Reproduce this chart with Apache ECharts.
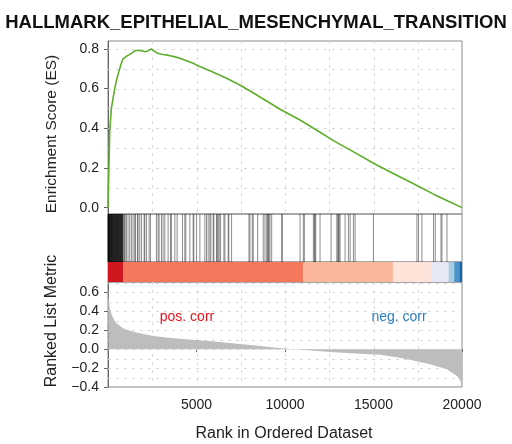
<!DOCTYPE html>
<html><head><meta charset="utf-8">
<script src="https://cdn.jsdelivr.net/npm/echarts@6/dist/echarts.min.js"></script>
<style>html,body{margin:0;padding:0;background:#fff}#c{width:512px;height:444px}</style>
</head><body><div id="c"></div>
<script>
const chartTitle = 'HALLMARK_EPITHELIAL_MESENCHYMAL_TRANSITION';
const esRank  = [0,50,96,190,283,380,475,560,660,760,850,950,1040,1180,1320,1420,1500,1600,1700,1800,1950,2100,2250,2360,2450,2600,2740,2900,3100,3300,3500,3800,4060,4400,4810,5190,5755,6200,6700,7200,7640,8100,8585,9100,9717,10300,10849,11800,12734,13900,14997,16200,17453,18393,19200,20000];
const esScore = [0,0.20,0.38,0.50,0.55,0.60,0.64,0.67,0.70,0.73,0.75,0.758,0.763,0.770,0.778,0.784,0.790,0.795,0.793,0.795,0.790,0.786,0.790,0.795,0.800,0.790,0.781,0.776,0.772,0.770,0.766,0.760,0.753,0.742,0.728,0.711,0.690,0.672,0.652,0.630,0.608,0.584,0.558,0.530,0.496,0.468,0.442,0.390,0.338,0.280,0.224,0.168,0.112,0.068,0.034,0.0];
const metricRank  = [1,30,96,180,283,450,660,900,1228,1600,1980,2600,3300,4200,5190,6320,7450,8500,9500,10470,11500,12500,13500,14500,15376,16320,17260,18200,18770,19150,19525,19720,19900,20000];
const metricValue = [0.62,0.55,0.44,0.38,0.335,0.28,0.247,0.215,0.194,0.175,0.159,0.14,0.123,0.108,0.095,0.077,0.055,0.035,0.015,0,-0.015,-0.03,-0.04,-0.05,-0.06,-0.085,-0.12,-0.16,-0.19,-0.212,-0.26,-0.285,-0.33,-0.4];
const hitRanks = [5,12,20,30,40,50,60,72,85,98,110,120,130,145,160,175,190,202,215,228,240,255,270,285,300,315,330,345,360,375,390,405,420,435,450,465,480,495,510,525,540,555,570,585,600,615,630,645,660,675,690,705,720,735,750,765,780,795,810,825,840,
  888,945,962,1040,1132,1228,1322,1415,1511,1550,1664,1700,1794,1890,2040,2077,2172,2322,2398,2738,2830,2888,3020,3113,3209,3396,3530,3585,3775,3905,4209,4340,4397,4624,4812,4850,5003,5190,5472,5566,5660,5755,5812,5942,5982,6130,6170,6225,6283,6360,6547,6604,6790,6830,6983,
  7963,8019,8150,8206,8455,8770,8868,8964,9020,9055,9095,9150,9247,9813,9847,10849,11036,11093,11602,11658,11696,11737,11980,12603,12926,12982,13020,13056,13113,13395,13583,13679,13866,13960,14997,17453,17544,17736,18393,18488,18811,18868,19151];
const colorStart = [0,850,11040,16100,18300,19240,19560,19850];
const colorEnd   = [850,11040,16100,18300,19240,19560,19850,20000];
const colorFill  = ['#D0161E','#F4785B','#FCB69B','#FEE4D8','#E6E8F5','#A8CCE6','#4A93C8','#1562AE'];
const xTicks = [5000,10000,15000,20000];
const esTicks = [0,0.2,0.4,0.6,0.8];
const metricTicks = [-0.4,-0.2,0,0.2,0.4,0.6];
const esGridY = [0.1,0.2,0.3,0.4,0.5,0.6,0.7,0.8];
const metricGridY = [-0.3,-0.2,-0.1,0,0.1,0.2,0.3,0.4,0.5,0.6,0.7];
const gridX = [2500,5000,7500,10000,12500,15000,17500];

const FONT = 'Liberation Sans';
const chart = echarts.init(document.getElementById('c'), null, {renderer:'canvas'});
const L = 108, W = 354;
const grids = [
  {left:L, top:41, width:W, height:173},
  {left:L, top:214, width:W, height:48},
  {left:L, top:262, width:W, height:20},
  {left:L, top:282, width:W, height:105}
].map(g => Object.assign({show:true, borderColor:'#8a8a8a', borderWidth:1, backgroundColor:'transparent'}, g));

function hx(i){ return {type:'value', gridIndex:i, min:0, max:20000, show:false}; }
const xAxes = [hx(0), hx(1), hx(2), {
  type:'value', gridIndex:3, min:0, max:20000,
  axisLine:{show:false}, splitLine:{show:false},
  axisTick:{show:true, customValues:xTicks, length:3, lineStyle:{color:'#666'}},
  axisLabel:{customValues:xTicks, formatter:v => String(Math.round(v)), margin:11, fontFamily:FONT, fontSize:14, color:'#222'}
}];
const fmt = v => (v < 0 ? '\u2212' : '') + Math.abs(v).toFixed(1);
const yAxes = [
  {type:'value', gridIndex:0, min:-0.032, max:0.84,
   axisLine:{show:true, lineStyle:{color:'#666'}}, splitLine:{show:false},
   axisTick:{show:true, customValues:esTicks, length:4, lineStyle:{color:'#666'}},
   axisLabel:{customValues:esTicks, formatter:fmt, margin:9, fontFamily:FONT, fontSize:14, color:'#222'}},
  {type:'value', gridIndex:1, min:0, max:1, show:false},
  {type:'value', gridIndex:2, min:0, max:1, show:false},
  {type:'value', gridIndex:3, min:-0.4, max:0.71,
   axisLine:{show:true, lineStyle:{color:'#666'}}, splitLine:{show:false},
   axisTick:{show:true, customValues:metricTicks, length:4, lineStyle:{color:'#666'}},
   axisLabel:{customValues:metricTicks, formatter:fmt, margin:9, fontFamily:FONT, fontSize:14, color:'#222'}}
];

const dash = {stroke:'#d8d8d8', lineWidth:1, lineDash:[3,5]};
function hLines(gi, vals){
  return {type:'custom', xAxisIndex:gi, yAxisIndex:gi, z:1, silent:true,
    data: vals.map(v => [1000, v]),
    renderItem:(p, api) => {
      const cs = p.coordSys; const y = Math.round(api.coord([1000, api.value(1)])[1]) + 0.5;
      return {type:'line', shape:{x1:cs.x, y1:y, x2:cs.x+cs.width, y2:y}, style:dash};
    }};
}
function vLines(gi, vals, yv){
  return {type:'custom', xAxisIndex:gi, yAxisIndex:gi, z:1, silent:true,
    data: vals.map(v => [v, yv]),
    renderItem:(p, api) => {
      const cs = p.coordSys; const x = Math.round(api.coord([api.value(0), yv])[0]) + 0.5;
      return {type:'line', shape:{x1:x, y1:cs.y, x2:x, y2:cs.y+cs.height}, style:dash};
    }};
}

const series = [
  hLines(0, esGridY), vLines(0, gridX, 0.2),
  hLines(3, metricGridY), vLines(3, gridX, 0.2),
  {type:'line', xAxisIndex:0, yAxisIndex:0, z:3, symbol:'none', smooth:false,
   data: esRank.map((r,i)=>[r, esScore[i]]),
   lineStyle:{color:'#5DAE2A', width:1.6}},
  {type:'custom', xAxisIndex:1, yAxisIndex:1, z:3, silent:true,
   data: hitRanks.map(r=>[r]),
   renderItem:(p, api) => {
     const a = api.coord([api.value(0), 1]), b = api.coord([api.value(0), 0]);
     return {type:'line', shape:{x1:a[0], y1:a[1], x2:b[0], y2:b[1]}, style:{stroke:'rgba(0,0,0,0.45)', lineWidth:1}};
   }},
  {type:'custom', xAxisIndex:2, yAxisIndex:2, z:2, silent:true,
   data: colorStart.map((s,i)=>[s, colorEnd[i], i]),
   renderItem:(p, api) => {
     const a = api.coord([api.value(0), 1]), b = api.coord([api.value(1), 0]);
     return {type:'rect', shape:{x:a[0], y:a[1], width:b[0]-a[0], height:b[1]-a[1]}, style:{fill:colorFill[api.value(2)]}};
   }},
  {type:'line', xAxisIndex:3, yAxisIndex:3, z:2, symbol:'none',
   data: metricRank.map((r,i)=>[r, metricValue[i]]),
   lineStyle:{width:0, color:'#BDBDBD'},
   areaStyle:{color:'#BDBDBD', opacity:1}}
];

chart.setOption({
  animation:false,
  title:{text:chartTitle, left:'center', top:8,
    textStyle:{fontFamily:FONT, fontSize:18.5, fontWeight:'bold', color:'#111'}},
  grid:grids, xAxis:xAxes, yAxis:yAxes, series:series,
  graphic:[
    {type:'text', x:52, y:134, rotation:Math.PI/2, z:10,
     style:{text:'Enrichment Score (ES)', fontFamily:FONT, fontSize:15.5, fill:'#222', align:'center', verticalAlign:'middle'}},
    {type:'text', x:52, y:321, rotation:Math.PI/2, z:10,
     style:{text:'Ranked List Metric', fontFamily:FONT, fontSize:16, fill:'#222', align:'center', verticalAlign:'middle'}},
    {type:'text', x:284, y:434, z:10,
     style:{text:'Rank in Ordered Dataset', fontFamily:FONT, fontSize:16, fill:'#222', align:'center', verticalAlign:'middle'}},
    {type:'text', x:187, y:317, z:10,
     style:{text:'pos. corr', fontFamily:FONT, fontSize:14, fill:'#E8141C', align:'center', verticalAlign:'middle'}},
    {type:'text', x:399, y:317, z:10,
     style:{text:'neg. corr', fontFamily:FONT, fontSize:14, fill:'#2A7FC0', align:'center', verticalAlign:'middle'}}
  ]
});
</script></body></html>
